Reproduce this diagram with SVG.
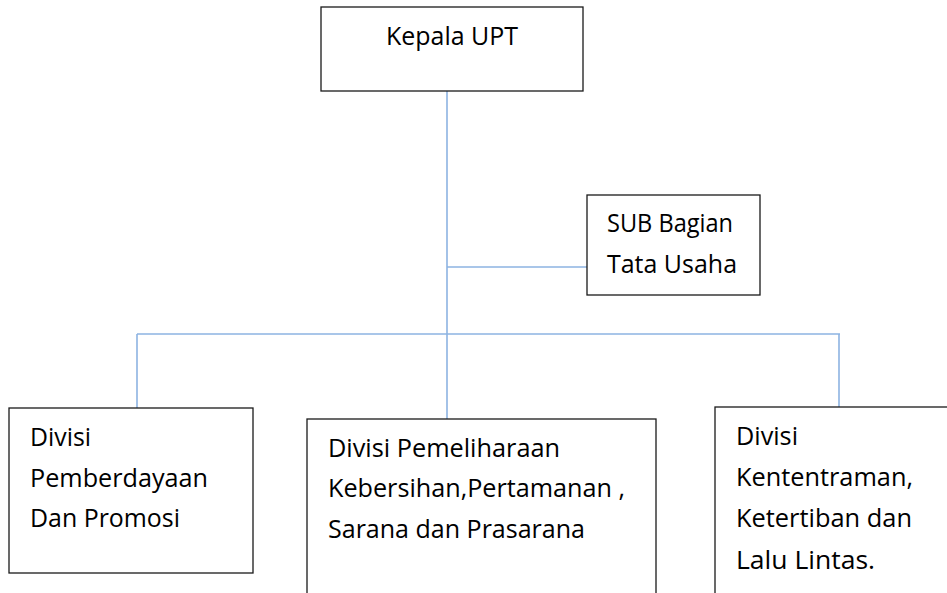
<svg xmlns="http://www.w3.org/2000/svg" width="947" height="593" viewBox="0 0 947 593">
<style>
.box{fill:#fff;stroke:#1a1a1a;stroke-width:1.3}
.ln{stroke:#8DB3E2;stroke-width:1.6;fill:none}
text{font-family:"Open Sans","Noto Sans",sans-serif;font-size:25px;fill:#000}
</style>
<rect width="947" height="593" fill="#fff"/>
<g id="connectors">
<line class="ln" x1="447" y1="91" x2="447" y2="419"/>
<line class="ln" x1="447" y1="267" x2="587" y2="267"/>
<line class="ln" x1="137" y1="334" x2="840" y2="334"/>
<line class="ln" x1="137" y1="334" x2="137" y2="408"/>
<line class="ln" x1="839" y1="334" x2="839" y2="407"/>
</g>
<g id="kepala">
<rect class="box" x="321" y="7" width="262" height="84"/>
<text x="386" y="45" textLength="132" lengthAdjust="spacingAndGlyphs">Kepala UPT</text>
</g>
<g id="sub">
<rect class="box" x="587" y="195" width="173" height="100"/>
<text x="607" y="232" textLength="126" lengthAdjust="spacingAndGlyphs">SUB Bagian</text>
<text x="607" y="273" textLength="130" lengthAdjust="spacingAndGlyphs">Tata Usaha</text>
</g>
<g id="divisi1">
<rect class="box" x="9" y="408" width="244" height="165"/>
<text x="30" y="446" textLength="61" lengthAdjust="spacingAndGlyphs">Divisi</text>
<text x="30" y="487" textLength="178" lengthAdjust="spacingAndGlyphs">Pemberdayaan</text>
<text x="30" y="527" textLength="150" lengthAdjust="spacingAndGlyphs">Dan Promosi</text>
</g>
<g id="divisi2">
<rect class="box" x="307" y="419" width="349" height="190"/>
<text x="328" y="457" textLength="232" lengthAdjust="spacingAndGlyphs">Divisi Pemeliharaan</text>
<text x="328" y="497" textLength="297" lengthAdjust="spacingAndGlyphs">Kebersihan,Pertamanan ,</text>
<text x="328" y="538" textLength="257" lengthAdjust="spacingAndGlyphs">Sarana dan Prasarana</text>
</g>
<g id="divisi3">
<rect class="box" x="715" y="407" width="250" height="200"/>
<text x="736" y="445" textLength="62" lengthAdjust="spacingAndGlyphs">Divisi</text>
<text x="736" y="486" textLength="177" lengthAdjust="spacingAndGlyphs">Kententraman,</text>
<text x="736" y="527" textLength="176" lengthAdjust="spacingAndGlyphs">Ketertiban dan</text>
<text x="736" y="569" textLength="139" lengthAdjust="spacingAndGlyphs">Lalu Lintas.</text>
</g>
</svg>
